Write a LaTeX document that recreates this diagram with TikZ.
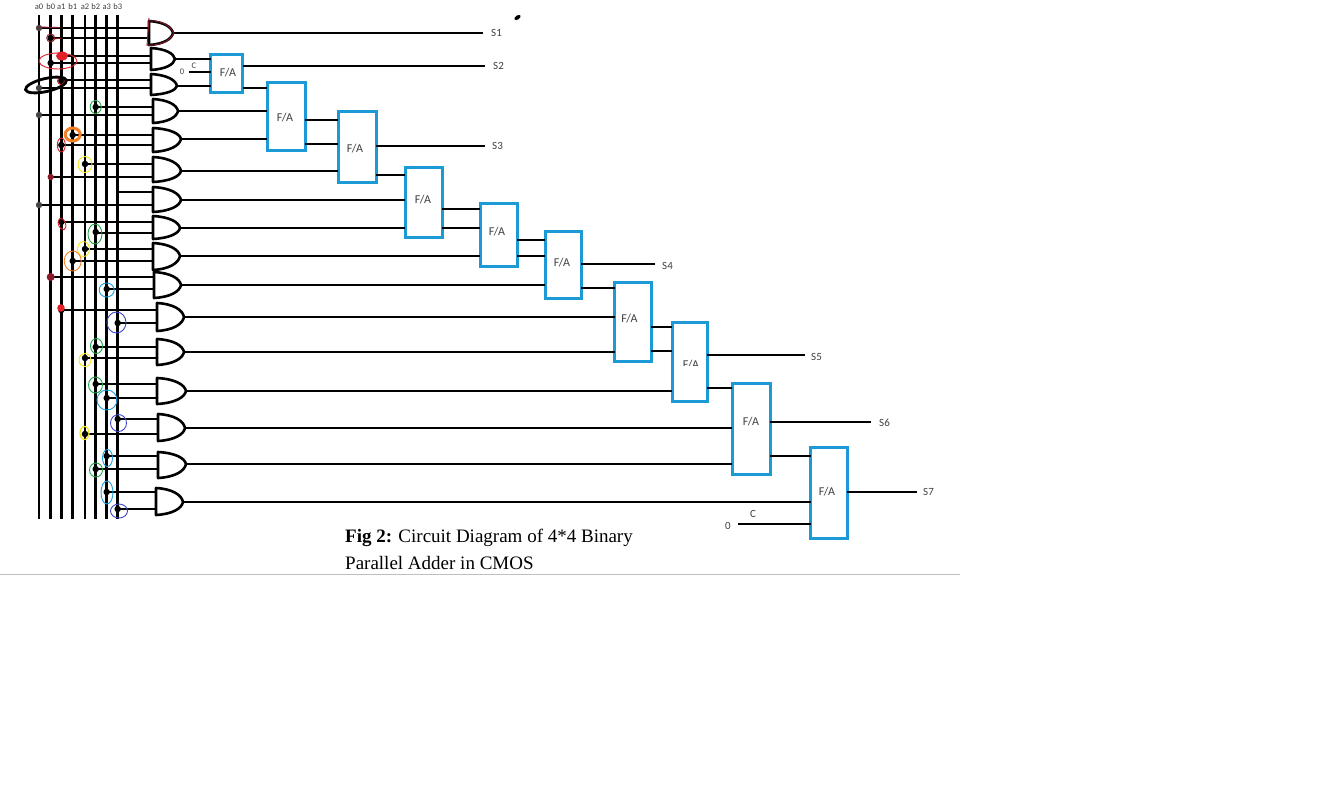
\documentclass[tikz,border=0pt]{standalone}
\usepackage{fontspec}
\setmainfont{Carlito}
\newfontfamily\capfont{Liberation Serif}
\definecolor{fablue}{HTML}{1B9AD6}
\definecolor{dred}{HTML}{8B1A2B}
\definecolor{hred}{HTML}{E3202A}
\definecolor{hgreen}{HTML}{22A84A}
\definecolor{hyellow}{HTML}{F5E61A}
\definecolor{horange}{HTML}{F58025}
\definecolor{hcyan}{HTML}{1B9FE0}
\definecolor{hblue}{HTML}{3F48CC}
\definecolor{dgrey}{HTML}{444444}
\tikzset{
  wire/.style={line width=2.7pt,black},
  bus/.style={line width=2.8pt,black},
  gateline/.style={line width=2.6pt,black,fill=white,line join=round},
  fabox/.style={draw=fablue,line width=3pt,fill=white,inner sep=0pt,outer sep=0pt,rectangle},
  falab/.style={text=black!75,font=\fontsize{12}{14}\selectfont,inner sep=0pt},
  lab/.style={text=black!75,font=\fontsize{11}{13}\selectfont,inner sep=0pt},
  toplab/.style={text=black!75,font=\fontsize{8.5}{10}\selectfont,inner sep=0pt},
  jdot/.style={circle,fill=black,inner sep=0pt,minimum size=6.5pt},
  scrawl/.style={line width=0.9pt},
}
\newcommand\andgate[6]{% name,left,top,bottom,tip,outy
  \draw[gateline] (#2,#3) .. controls ({#2+0.62*(#5-#2)},{#3+1}) and ({#2+0.95*(#5-#2)},{#3+0.5*(#6-#3)}) .. (#5,#6)
    .. controls ({#2+0.95*(#5-#2)},{#4-0.5*(#4-#6)}) and ({#2+0.62*(#5-#2)},{#4-1}) .. (#2,#4) -- cycle;
  \coordinate (#1o) at (#5,#6);
  \coordinate (#1i) at (#2,#6);
}
\newcommand\inp[3]{% bus,gate,y
  \draw[wire] (#1 |- 0,#3) -- (#2i |- 0,#3);
}
\newcommand\fullad[6]{% name,x1,y1,x2,y2,labelx,labely in two steps
  \node[fabox,minimum width={#4pt-#2pt},minimum height={#5pt-#3pt}] (#1) at ({(#2+#4)/2},{(#3+#5)/2}) {};
  \coordinate (#1c) at ({(#2+#4)/2},#6);
}
\begin{document}
\begin{tikzpicture}[x=1pt,y=-1pt]
\useasboundingbox (0,0) rectangle (1317,795);
\fill[white] (0,0) rectangle (1317,795);
% bus tops
\foreach \n/\x in {a0/39,b0/50.7,a1/61.3,b1/72.7,a2/85,b2/95.7,a3/106.7,b3/117.7}{
  \coordinate (\n) at (\x,15);
  \coordinate (\n e) at (\x,519);
  \draw[bus] (\n) -- (\n e);
  \node[toplab] (t\n) at (\x,7) {\n};
}
% gates
\andgate{g1}{149}{21}{45}{173}{33}
\andgate{g2}{151}{48}{70}{175}{59}
\andgate{g3}{151}{74}{95}{177}{86}
\andgate{g4}{153}{99}{123}{178}{111}
\andgate{g5}{153}{128}{152}{181}{139}
\andgate{g6}{153}{157}{182}{181}{171}
\andgate{g7}{153}{187}{212}{181}{200}
\andgate{g8}{153}{216}{239}{180}{228}
\andgate{g9}{153}{243}{270}{180}{256}
\andgate{g10}{154}{272}{298}{181}{285}
\andgate{g11}{157}{303}{331}{184}{317}
\andgate{g12}{157}{339}{365}{184}{352}
\andgate{g13}{157}{378}{404}{186}{391}
\andgate{g14}{158}{414}{441}{185}{428}
\andgate{g15}{158}{452}{478}{186}{464}
\andgate{g16}{156}{488}{515}{183}{502}
% gate inputs
\inp{a0}{g1}{28}\inp{b0}{g1}{38}
\inp{a1}{g2}{56}\inp{b0}{g2}{63}
\inp{a1}{g3}{80}\inp{a0}{g3}{88}
\inp{b2}{g4}{107}\inp{a0}{g4}{115}
\inp{b1}{g5}{135}\inp{a1}{g5}{145}
\inp{a2}{g6}{164}\inp{b0}{g6}{177}
\inp{b3}{g7}{192}\inp{a0}{g7}{205}
\inp{a1}{g8}{222}\inp{b2}{g8}{233}
\inp{a2}{g9}{249}\inp{b1}{g9}{261}
\inp{b0}{g10}{277}\inp{a3}{g10}{289}
\inp{a1}{g11}{310}\inp{b3}{g11}{323}
\inp{b2}{g12}{347}\inp{a2}{g12}{358}
\inp{b2}{g13}{384}\inp{a3}{g13}{398}
\inp{b3}{g14}{419}\inp{a2}{g14}{434}
\inp{a3}{g15}{456}\inp{b2}{g15}{469}
\inp{a3}{g16}{492}\inp{b3}{g16}{509}
% full adders
\fullad{fa1}{210.5}{54}{242.5}{92}{73}
\fullad{fa2}{267}{82}{305}{150}{118}
\fullad{fa3}{338}{111}{376}{182}{149}
\fullad{fa4}{405}{167}{442}{237}{200}
\fullad{fa5}{480}{203}{517}{266}{232}
\fullad{fa6}{545}{231}{581}{298}{263}
\fullad{fa7}{614.5}{282}{651}{361}{319}
\fullad{fa8}{672}{322}{707}{401}{364}
\fullad{fa9}{732}{383}{770}{474}{422}
\fullad{fa10}{810.5}{447}{847}{538}{492}
\node[falab] (fl1) at (228,73) {F/A};
\node[falab] (fl2) at (285,118) {F/A};
\node[falab] (fl3) at (355,149) {F/A};
\node[falab] (fl4) at (423,200) {F/A};
\node[falab] (fl5) at (497,232) {F/A};
\node[falab] (fl6) at (562,263) {F/A};
\node[falab] (fl7) at (629.5,319) {F/A};
\begin{scope}
\clip (675,355) rectangle (704,365.5);
\node[falab] (fl8) at (691,364.5) {F/A};
\end{scope}
\node[falab] (fl9) at (751,422) {F/A};
\node[falab] (fl10) at (827,492) {F/A};
% output labels and ends
\node[lab,anchor=west] (s1) at (491,33) {S1};
\node[lab,anchor=west] (s2) at (493,66) {S2};
\node[lab,anchor=west] (s3) at (492,146) {S3};
\node[lab,anchor=west] (s4) at (662,266) {S4};
\node[lab,anchor=west] (s5) at (811,357) {S5};
\node[lab,anchor=west] (s6) at (879,423) {S6};
\node[lab,anchor=west] (s7) at (923,492) {S7};
\coordinate (e1) at (483,33);
\coordinate (e2) at (485,66);
\coordinate (e3) at (485,146);
\coordinate (e4) at (655,264);
\coordinate (e5) at (805,355);
\coordinate (e6) at (871,422);
\coordinate (e7) at (917,492);
\draw[wire] (g1o) -- (e1);
\draw[wire] (fa1.east |- e2) -- (e2);
\draw[wire] (fa3.east |- e3) -- (e3);
\draw[wire] (fa6.east |- e4) -- (e4);
\draw[wire] (fa8.east |- e5) -- (e5);
\draw[wire] (fa9.east |- e6) -- (e6);
\draw[wire] (fa10.east |- e7) -- (e7);
% gate outputs to adders
\draw[wire] (g2o) -- (fa1.west |- g2o);
\draw[wire] (g3o) -- (fa1.west |- g3o);
\draw[wire] (g4o) -- (fa2.west |- g4o);
\draw[wire] (g5o) -- (fa2.west |- g5o);
\draw[wire] (g6o) -- (fa3.west |- g6o);
\draw[wire] (g7o) -- (fa4.west |- g7o);
\draw[wire] (g8o) -- (fa4.west |- g8o);
\draw[wire] (g9o) -- (fa5.west |- g9o);
\draw[wire] (g10o) -- (fa6.west |- g10o);
\draw[wire] (g11o) -- (fa7.west |- g11o);
\draw[wire] (g12o) -- (fa7.west |- g12o);
\draw[wire] (g13o) -- (fa8.west |- g13o);
\draw[wire] (g14o) -- (fa9.west |- g14o);
\draw[wire] (g15o) -- (fa9.west |- g15o);
\draw[wire] (g16o) -- (fa10.west |- g16o);
% adder to adder
\draw[wire] (fa1.east |- 0,88) -- (fa2.west |- 0,88);
\draw[wire] (fa2.east |- 0,120) -- (fa3.west |- 0,120);
\draw[wire] (fa2.east |- 0,144) -- (fa3.west |- 0,144);
\draw[wire] (fa3.east |- 0,175) -- (fa4.west |- 0,175);
\draw[wire] (fa4.east |- 0,209) -- (fa5.west |- 0,209);
\draw[wire] (fa4.east |- 0,228) -- (fa5.west |- 0,228);
\draw[wire] (fa5.east |- 0,240) -- (fa6.west |- 0,240);
\draw[wire] (fa5.east |- 0,256) -- (fa6.west |- 0,256);
\draw[wire] (fa6.east |- 0,288) -- (fa7.west |- 0,288);
\draw[wire] (fa7.east |- 0,327) -- (fa8.west |- 0,327);
\draw[wire] (fa7.east |- 0,351) -- (fa8.west |- 0,351);
\draw[wire] (fa8.east |- 0,388) -- (fa9.west |- 0,388);
\draw[wire] (fa9.east |- 0,456) -- (fa10.west |- 0,456);
% carry inputs
\node[lab,font=\fontsize{8.5}{10}\selectfont] (z1) at (182,72) {0};
\node[lab,font=\fontsize{8.5}{10}\selectfont] (c1) at (194,66) {C};
\coordinate (cs1) at (189,72);
\draw[wire] (cs1) -- (fa1.west |- cs1);
\node[lab] (z2) at (728,526) {0};
\node[lab] (c2) at (753,514) {C};
\coordinate (cs2) at (738,524);
\draw[wire] (cs2) -- (fa10.west |- cs2);
% hand-drawn junction marks
\foreach \x/\y in {50.7/38,50.7/63,72.7/135,61.3/145,85/164,95.7/107,61.3/222,95.7/232,85/249,72.7/261,106.7/289,117.7/323,95.7/347,85/358,95.7/384,106.7/398,117.7/419,85/434,106.7/456,95.7/469,106.7/492,117.7/509,61.3/310,61.3/81}
  \node[jdot] at (\x,\y) {};
\foreach \x/\y in {39/28,39/88,39/115,39/205}
  \fill[dgrey] (\x,\y) circle (3.2);
\foreach \x/\y in {50.7/177,50.7/277}
  \fill[dred] (\x,\y) circle (3.2);
% gate 1 scrawl
\draw[dred,scrawl] (149,21) .. controls (162,20) and (170,26) .. (174,33) .. controls (170,41) and (160,46) .. (147,45) (149,18) -- (147,46);
\draw[dred,scrawl] (37,27) -- (60,27.5);
\draw[dred,scrawl] (50.7,38) circle (4);
\draw[dred,scrawl] (54,39) -- (62,38);
% a1/b0 scrawl
\fill[hred] (62,56) ellipse (6 and 4.5);
\draw[hred,scrawl] (58,61) ellipse (19 and 8);
\draw[hred,scrawl] (61,81) circle (3.5);
\draw[black,line width=2.8pt,rotate around={13:(46,85)}] (46,85) ellipse (21 and 6.5);
\draw[hgreen,scrawl] (95.7,107) ellipse (5.5 and 6.5);
\draw[horange,line width=3pt] (72.7,134.5) ellipse (7.5 and 6.5);
\draw[hred,scrawl] (61.3,145) ellipse (4 and 7);
\draw[hyellow,scrawl] (85,164.5) ellipse (7 and 8);
\draw[hred,scrawl,rotate around={20:(62,224)}] (62,224) ellipse (3.5 and 6);
\draw[hgreen,scrawl] (95,234) ellipse (7 and 10);
\draw[hyellow,scrawl] (83.5,249) ellipse (6 and 7.5);
\draw[horange,scrawl] (72.7,261) ellipse (8.5 and 10);
\draw[dred,line width=1.5pt] (50.7,277) circle (3.2);
\draw[hcyan,scrawl] (106.7,290) ellipse (7.5 and 7);
\fill[hred] (61,308) circle (3.8);
\draw[hblue,scrawl] (116.5,322.5) ellipse (9.5 and 10.5);
\draw[hgreen,scrawl] (96.5,346) ellipse (6 and 7.5);
\draw[hyellow,scrawl] (85,360) ellipse (6 and 6.5);
\draw[hgreen,scrawl] (95.5,385) ellipse (7 and 8);
\draw[hcyan,scrawl] (107,400) ellipse (10 and 10);
\draw[hblue,scrawl] (118.5,423) ellipse (8 and 8.5);
\draw[hyellow,line width=1.2pt] (84.5,433) ellipse (4.5 and 6.5);
\draw[hcyan,scrawl] (107.5,458) ellipse (5 and 8.5);
\draw[hgreen,scrawl] (96,470) ellipse (6.5 and 7);
\draw[hcyan,scrawl] (107,492.5) ellipse (6 and 11.5);
\draw[hblue,scrawl] (119,511) ellipse (8.5 and 7);
% stray mark
\fill[black,rotate around={35:(517.5,17.5)}] (517.5,17.5) ellipse (3.5 and 2);
% caption and rule
\node[anchor=base west,inner sep=0pt,font=\capfont\fontsize{19}{24}\selectfont] (cap1) at (345,542) {\textbf{Fig 2:} Circuit Diagram of 4*4 Binary};
\node[anchor=base west,inner sep=0pt,font=\capfont\fontsize{19}{24}\selectfont] (cap2) at (345,569) {Parallel Adder in CMOS};
\coordinate (ruleL) at (0,574.5);
\coordinate (ruleR) at (960,574.5);
\draw[black!25,line width=1pt] (ruleL) -- (ruleR);
\end{tikzpicture}
\end{document}
